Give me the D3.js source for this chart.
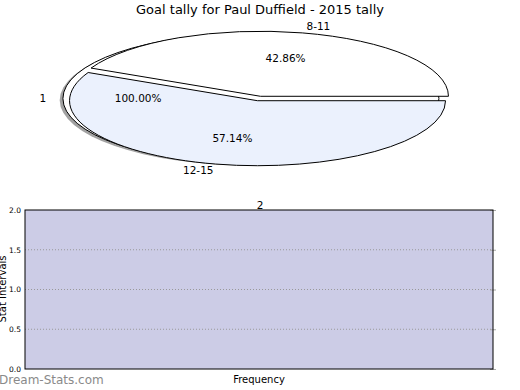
<!doctype html>
<html lang="en">
<head>
<meta charset="UTF-8">
<title>Goal tally</title>
<script src="https://d3js.org/d3.v7.min.js"></script>
<style>
  body { margin: 0; background: #fff; }
  text { font-family: "DejaVu Sans", sans-serif; }
</style>
</head>
<body>
<div id="chart-area"></div>
<script>

// pie data
const title = 'Goal tally for Paul Duffield - 2015 tally';
const outerLabels = ['1'];
const outerValues = [1];
const innerLabels = ['8-11', '12-15'];
const innerValues = [3, 4];
const innerColors = ['#ffffff', '#ebf1fd'];

// lower panel
const panelTitle = '2';
const yTicks = [0, 0.5, 1.0, 1.5, 2.0];
const yLabel = 'Stat Intervals';
const xLabel = 'Frequency';

const W = 520, H = 390;

const svg = d3.select('#chart-area')
    .append('svg')
    .attr('width', W)
    .attr('height', H);

svg.append('text')
    .attr('x', 260).attr('y', 14)
    .attr('text-anchor', 'middle')
    .attr('font-size', 13)
    .text(title);

// pie: unit circle squashed into an ellipse
const cx = 259, cy = 98.5, sx = 188, sy = 65;
const px = d3.scaleLinear().domain([-1, 1]).range([cx - sx, cx + sx]);
const py = d3.scaleLinear().domain([-1, 1]).range([cy + sy, cy - sy]);

const pie = d3.pie().sort(null).startAngle(0).endAngle(2 * Math.PI);
const arc = d3.arc().innerRadius(0).outerRadius(1)
    .startAngle(d => Math.PI / 2 - d.startAngle)
    .endAngle(d => Math.PI / 2 - d.endAngle);

const wedgeLayer = svg.append('g');
const textLayer = svg.append('g');

function drawPie(values, labels, colors, explode, shadow) {
    const arcs = pie(values);
    arcs.forEach((d, i) => {
        const mid = (d.startAngle + d.endAngle) / 2;
        const ox = explode * Math.cos(mid), oy = explode * Math.sin(mid);
        if (shadow) {
            wedgeLayer.append('path')
                .attr('d', arc(d))
                .attr('transform', `translate(${px(ox - 0.017)},${py(oy - 0.025)}) scale(${sx},${sy})`)
                .attr('fill', '#555')
                .attr('opacity', 0.55);
        }
        wedgeLayer.append('path')
            .attr('d', arc(d))
            .attr('transform', `translate(${px(ox)},${py(oy)}) scale(${sx},${sy})`)
            .attr('fill', colors[i])
            .attr('stroke', '#000')
            .attr('stroke-width', 1)
            .attr('vector-effect', 'non-scaling-stroke');

        const lx = ox + 1.1 * Math.cos(mid), ly = oy + 1.1 * Math.sin(mid);
        textLayer.append('text')
            .attr('x', px(lx) + (lx > ox ? 0 : 2)).attr('y', py(ly))
            .attr('dy', '0.35em')
            .attr('text-anchor', lx > ox ? 'start' : 'end')
            .attr('font-size', 10.5)
            .text(labels[i]);

        const tx = ox + 0.6 * Math.cos(mid), ty = oy + 0.6 * Math.sin(mid);
        const pct = (d.endAngle - d.startAngle) / (2 * Math.PI) * 100;
        textLayer.append('text')
            .attr('x', px(tx)).attr('y', py(ty))
            .attr('dy', '0.35em')
            .attr('text-anchor', 'middle')
            .attr('font-size', 10.5)
            .text(pct.toFixed(2) + '%');
    });
}

drawPie(outerValues, outerLabels, ['#ffffff'], 0.043, true);
drawPie(innerValues, innerLabels, innerColors, 0.035, false);

// lower panel
const pLeft = 25, pRight = 493, pTop = 210, pBottom = 369;
const y = d3.scaleLinear().domain([0, 2]).range([pBottom, pTop]);

svg.append('rect')
    .attr('x', pLeft).attr('y', pTop)
    .attr('width', pRight - pLeft).attr('height', pBottom - pTop)
    .attr('fill', '#ccccE6');

svg.append('g')
    .selectAll('line')
    .data(yTicks.slice(1, -1))
    .enter().append('line')
    .attr('x1', pLeft).attr('x2', pRight)
    .attr('y1', d => y(d)).attr('y2', d => y(d))
    .attr('stroke', '#999')
    .attr('stroke-dasharray', '1,2');

// tick marks on the right edge
svg.append('g')
    .selectAll('line')
    .data(yTicks)
    .enter().append('line')
    .attr('x1', pRight - 3).attr('x2', pRight + 3)
    .attr('y1', d => y(d) + 0.5).attr('y2', d => y(d) + 0.5)
    .attr('stroke', '#aaa');

svg.append('g')
    .attr('transform', `translate(${pLeft},0)`)
    .call(d3.axisLeft(y).tickValues(yTicks).tickSize(0).tickPadding(4).tickFormat(d3.format('.1f')))
    .call(g => g.select('.domain').remove())
    .selectAll('text')
    .attr('font-size', 7.5)
    .attr('fill', '#000');

svg.append('rect')
    .attr('x', pLeft).attr('y', pTop)
    .attr('width', pRight - pLeft).attr('height', pBottom - pTop)
    .attr('fill', 'none')
    .attr('stroke', '#000');

svg.append('text')
    .attr('x', 260).attr('y', 209)
    .attr('text-anchor', 'middle')
    .attr('font-size', 10.5)
    .text(panelTitle);

svg.append('text')
    .attr('x', 259).attr('y', 383)
    .attr('text-anchor', 'middle')
    .attr('font-size', 10)
    .text(xLabel);

svg.append('text')
    .attr('transform', 'translate(6,289) rotate(-90)')
    .attr('text-anchor', 'middle')
    .attr('font-size', 10)
    .text(yLabel);

svg.append('text')
    .attr('x', -1).attr('y', 384)
    .attr('font-size', 12)
    .attr('fill', '#8a8a8a')
    .text('Dream-Stats.com');

</script>
</body>
</html>
